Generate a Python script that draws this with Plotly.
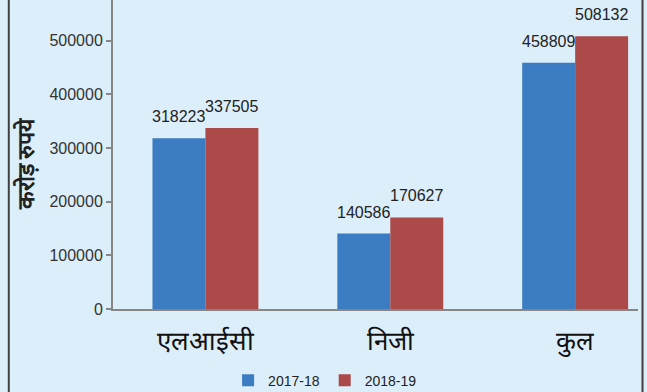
import plotly.graph_objects as go

categories = ["एलआईसी", "निजी", "कुल"]
series_names = ["2017-18", "2018-19"]
values_2017_18 = [318223, 140586, 458809]
values_2018_19 = [337505, 170627, 508132]
y_ticks = [0, 100000, 200000, 300000, 400000, 500000]
y_title = "करोड़ रुपये"

colors = ["#3b7cc2", "#ab4a48"]
bg = "#dbeefa"
num_font = "Liberation Sans, Arial, sans-serif"

fig = go.Figure()
for name, vals, col in zip(series_names, [values_2017_18, values_2018_19], colors):
    fig.add_trace(go.Bar(x=categories, y=vals, name=name, marker_color=col,
                         marker_line_width=0))

annotations = []
for vals, shift in [(values_2017_18, -26.5), (values_2018_19, 26.5)]:
    for c, v in zip(categories, vals):
        annotations.append(dict(x=c, y=v, text=str(v), showarrow=False,
                                xshift=shift, yshift=11, yanchor="bottom",
                                font=dict(family=num_font, size=16, color="#222222")))

annotations.append(dict(xref="paper", yref="paper", x=-0.167, y=0.472,
                        xanchor="center", yanchor="middle",
                        text="<b>" + y_title + "</b>", textangle=-90, showarrow=False,
                        font=dict(size=23, color="#222222")))

shapes = [
    dict(type="line", xref="paper", yref="paper", x0=-0.1985, x1=-0.1985, y0=-0.4, y1=1.2,
         line=dict(color="#404040", width=2)),
    dict(type="line", xref="paper", yref="paper", x0=1.0086, x1=1.0086, y0=-0.4, y1=1.2,
         line=dict(color="#404040", width=2)),
]

fig.update_layout(
    width=647, height=392,
    margin=dict(l=113, r=9, t=0, b=83, autoexpand=False),
    paper_bgcolor=bg, plot_bgcolor=bg,
    barmode="group", bargap=0.427, bargroupgap=0,
    showlegend=True,
    legend=dict(orientation="h", x=0.404, y=-0.232, xanchor="center", yanchor="middle",
                font=dict(family=num_font, size=14, color="#222222"),
                bgcolor="rgba(0,0,0,0)", itemwidth=30),
    annotations=annotations,
    shapes=shapes,
    xaxis=dict(type="category", range=[-0.5, 2.34], showline=True, linecolor="#868686",
               linewidth=2, ticks="", showgrid=False, zeroline=False,
               tickfont=dict(size=26, color="#111111"), ticklabelstandoff=8),
    yaxis=dict(range=[0, 575850], tickvals=y_ticks, tickformat="d", showline=True,
               linecolor="#868686", linewidth=2, ticks="outside", ticklen=5,
               tickcolor="#868686", tickwidth=2, showgrid=False, zeroline=False,
               tickfont=dict(family=num_font, size=16, color="#333333")),
)

fig.write_html("out.html")
